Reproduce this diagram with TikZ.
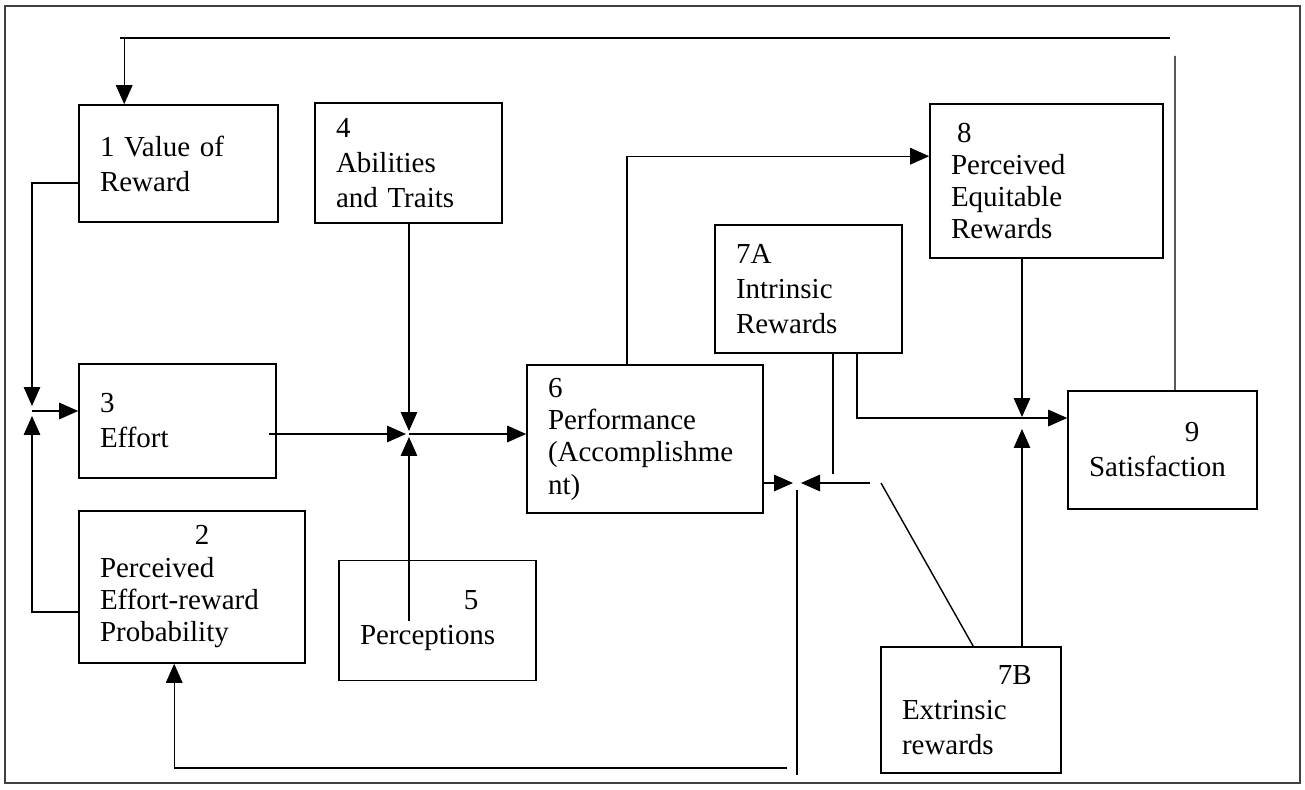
\documentclass[tikz,border=0pt]{standalone}
\usepackage{fontspec}
\setmainfont{Liberation Serif}
\usetikzlibrary{arrows.meta,calc}
\tikzset{
  blk/.style 2 args={draw, line width=0.9pt, minimum width=#1*0.02cm, minimum height=#2*0.02cm,
    /utils/exec={\pgfmathsetlengthmacro\blkw{(#1-42)*0.02cm}}, text width=\blkw,
    align=left, inner sep=0pt, font=\fontsize{16.5}{19.9}\selectfont},
  tight/.style={font=\fontsize{16.5}{18.4}\selectfont},
  arr/.style={-{Triangle[length=3.8mm, width=3.3mm]}, line width=0.8pt},
  ln/.style={line width=0.8pt},
  frame/.style={draw=black!75, line width=1.2pt}
}
\begin{document}
\begin{tikzpicture}[x=0.02cm, y=-0.02cm]
  \useasboundingbox (0,0) rectangle (1305,790);
  \draw[frame] (5,6) rectangle (1300,783);
  % boxes
  \node[blk={199}{117}] (b1) at (178.5,163.5) {1 Value of\\Reward};
  \node[blk={187}{120}] (b4) at (408.5,163) {4\\Abilities\\and Traits};
  \node[blk={197}{114}] (b3) at (177.5,421) {3\\Effort};
  \node[blk={226}{152}, tight] (b2) at (192,587) {\hspace*{1.9cm}2\\Perceived\\Effort-reward\\Probability};
  \node[blk={197}{120}] (b5) at (437.5,620.5) {\hspace*{2.08cm}5\\Perceptions};
  \node[blk={236}{148}, tight] (b6) at (645,439) {6\\Performance\\(Accomplishme\\nt)};
  \node[blk={187}{128}] (b7a) at (808.5,289) {7A\\Intrinsic\\Rewards};
  \node[blk={233}{154}, tight] (b8) at (1046.5,181) {\hspace*{0.12cm}8\\Perceived\\Equitable\\Rewards};
  \node[blk={189}{118}] (b9) at (1162.5,450) {\hspace*{1.92cm}9\\Satisfaction};
  \node[blk={180}{126}] (b7b) at (971,710) {\hspace*{1.92cm}7B\\Extrinsic\\rewards};
  % junction points
  \coordinate (j3) at (32,411);
  \coordinate (j6) at (409,434);
  \coordinate (j7) at (797,483);
  \coordinate (j9) at (1022,418);
  \coordinate (ctopR) at (1170,38);
  \coordinate (ctopL) at (120,38);
  \coordinate (c9) at (1175,56);
  % feedback from satisfaction
  \draw[ln] ($(b9.north)+(12.5,0)$) -- (c9);
  \draw[ln] (ctopR) -- (ctopL);
  \draw[arr] ($(b1.north west)+(46,-67)$) -- ($(b1.north west)+(46,0)$);
  % into effort
  \draw[arr] ($(b1.west)+(0,19.5)$) -| ($(j3)+(0,-5)$);
  \draw[arr] ($(b2.west)+(0,25)$) -| ($(j3)+(0,5)$);
  \draw[arr] (j3) -- (j3 -| b3.west);
  % into performance
  \draw[arr] ($(b3.east |- j6)+(-8,0)$) -- ($(j6)+(-3,0)$);
  \draw[arr] (b4.south -| j6) -- ($(j6)+(0,-3)$);
  \draw[arr] (j6 |- b5.center) -- ($(j6)+(0,3)$);
  \draw[arr] (j6) -- (j6 -| b6.west);
  % performance to equity
  \draw[arr] ($(b6.north)+(-18,0)$) |- ($(b8.north west)+(0,53)$);
  % rewards
  \draw[arr] (b6.east |- j7) -- ($(j7)+(-4,0)$);
  \draw[arr] ($(j7)+(73,0)$) -- ($(j7)+(4,0)$);
  \draw[ln] ($(b7a.south)+(24.5,0)$) -- ++(0,120);
  \draw[arr] ($(b7a.south)+(48.5,0)$) |- (j9 -| b9.west);
  \draw[arr] ($(b8.south)+(-24.5,0)$) -- ($(j9)+(0,-1)$);
  \draw[arr] ($(b7b.north)+(51,0)$) -- ($(j9)+(0,11)$);
  \draw[ln] ($(j7)+(84,0)$) -- ($(b7b.north west)+(93,0)$);
  \draw[ln] ($(j7)+(0,7)$) -- ++(0,285);
  \draw[arr] ($(j7)+(-10,285)$) -| ($(b2.south west)+(96,0)$);
\end{tikzpicture}
\end{document}
